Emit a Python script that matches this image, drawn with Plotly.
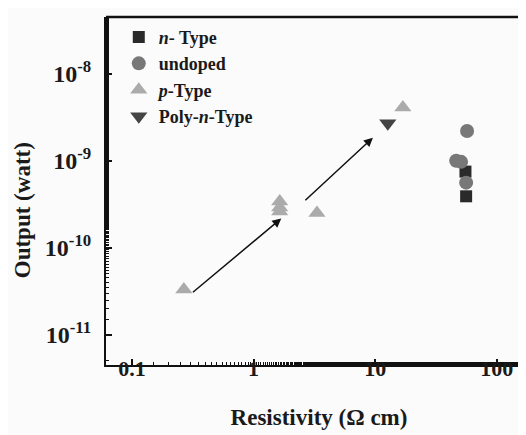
import plotly.graph_objects as go
import math

# Data
n_type_x = [55.3, 56.0]
n_type_y = [7.5e-10, 3.9e-10]
undoped_x = [57.0, 46.4, 50.9, 56.0]
undoped_y = [2.2e-9, 1.0e-9, 9.7e-10, 5.6e-10]
p_type_x = [0.267, 1.64, 1.64, 1.64, 3.32, 16.9]
p_type_y = [3.3e-11, 3.4e-10, 2.9e-10, 2.6e-10, 2.5e-10, 4.1e-9]
poly_n_x = [12.7]
poly_n_y = [2.7e-9]

# arrows (tail, head)
arrow_tails = [(0.308, 2.98e-11), (2.59, 3.38e-10)]
arrow_heads = [(1.69, 2.17e-10), (9.58, 1.84e-9)]

y_tickvals = [1e-11, 1e-10, 1e-9, 1e-8]
y_ticktext = ["10<sup>-11</sup>", "10<sup>-10</sup>", "10<sup>-9</sup>", "10<sup>-8</sup>"]
x_tickvals = [0.1, 1, 10, 100]
x_ticktext = ["0.1", "1", "10", "100"]

FONT = "Liberation Serif"

fig = go.Figure()
fig.add_trace(go.Scatter(x=n_type_x, y=n_type_y, mode="markers", name="<i>n</i>- Type",
                         marker=dict(symbol="square", size=12, color="#2a2a2a")))
fig.add_trace(go.Scatter(x=undoped_x, y=undoped_y, mode="markers", name="undoped",
                         marker=dict(symbol="circle", size=14, color="#787878")))
fig.add_trace(go.Scatter(x=p_type_x, y=p_type_y, mode="markers", name="<i>p</i>-Type",
                         marker=dict(symbol="triangle-up", size=15, color="#ababab")))
fig.add_trace(go.Scatter(x=poly_n_x, y=poly_n_y, mode="markers", name="Poly-<i>n</i>-Type",
                         marker=dict(symbol="triangle-down", size=15, color="#444444")))

for (tx, ty), (hx, hy) in zip(arrow_tails, arrow_heads):
    fig.add_annotation(x=math.log10(hx), y=math.log10(hy), ax=math.log10(tx), ay=math.log10(ty),
                       xref="x", yref="y", axref="x", ayref="y", text="", showarrow=True,
                       arrowhead=2, arrowsize=1.2, arrowwidth=1.5, arrowcolor="#111111")

fig.add_annotation(text="<b>Output (watt)</b>", textangle=-90, xref="paper", yref="paper",
                   x=-0.197, y=0.445, xanchor="center", yanchor="middle", showarrow=False,
                   font=dict(family=FONT, size=23, color="#1a1a1a"))

axis_common = dict(showline=True, linecolor="#111111", linewidth=2, mirror=False,
                   ticks="inside", ticklen=6, tickwidth=1.5, tickcolor="#111111",
                   showgrid=False, zeroline=False)

fig.update_xaxes(type="log", range=[-1.214, 2.29], tickvals=x_tickvals,
                 ticktext=["<b>" + t + "</b>" for t in x_ticktext],
                 tickfont=dict(family=FONT, size=22, color="#1a1a1a"),
                 minor=dict(ticks="inside", ticklen=3, tickwidth=1.2, tickcolor="#111111", showgrid=False),
                 title=dict(text="<b>Resistivity (Ω cm)</b>", font=dict(family=FONT, size=23, color="#1a1a1a"),
                            standoff=28),
                 ticklabelstandoff=-17,
                 **axis_common)
fig.update_yaxes(type="log", range=[-11.348, -7.348], tickvals=y_tickvals,
                 ticktext=["<b>" + t + "</b>" for t in y_ticktext],
                 tickfont=dict(family=FONT, size=24, color="#1a1a1a"),
                 minor=dict(ticks="inside", ticklen=3, tickwidth=1.2, tickcolor="#111111", showgrid=False),
                 ticklabelstandoff=8,
                 **axis_common)

# top border and faint right border
fig.add_shape(type="line", xref="paper", yref="paper", x0=0, x1=1, y0=1, y1=1,
              line=dict(color="#111111", width=2.5))
fig.add_shape(type="line", xref="paper", yref="paper", x0=1, x1=1, y0=0, y1=1,
              line=dict(color="#cccccc", width=1))

fig.update_layout(
    width=526, height=435,
    margin=dict(l=98, r=2, t=9, b=78),
    paper_bgcolor="#fbfbfb", plot_bgcolor="#fbfbfb",
    showlegend=True,
    legend=dict(x=0.03, y=0.995, xanchor="left", yanchor="top", bgcolor="rgba(0,0,0,0)",
                font=dict(family=FONT, size=18, color="#1a1a1a"), tracegroupgap=0,
                itemwidth=30),
    font=dict(family=FONT),
)
fig.for_each_trace(lambda t: t.update(name="<b>" + t.name + "</b>"))

fig.write_html("out.html")
